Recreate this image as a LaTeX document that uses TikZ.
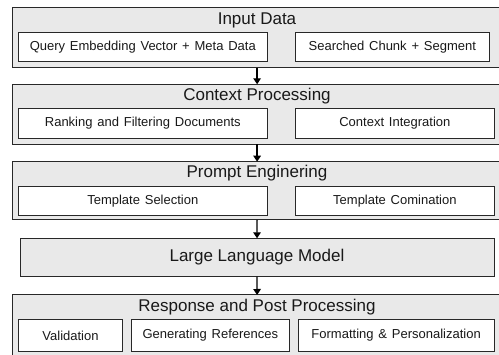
\documentclass[tikz,border=0pt]{standalone}
\usepackage{fontspec}
\setmainfont{Liberation Sans}
\usetikzlibrary{arrows.meta}
\definecolor{panelfill}{RGB}{233,233,233}
\definecolor{edge}{RGB}{40,40,40}
% cell text: slightly wider word gaps
\newcommand{\cellfont}{\fontsize{13}{15}\selectfont\spaceskip=0.37em\relax}
\tikzset{
  panel/.style={draw=edge, line width=1pt, fill=panelfill, anchor=north west,
    inner sep=0pt, outer sep=0pt},
  cell/.style={draw=edge, line width=1pt, fill=white, anchor=north west,
    inner sep=0pt, outer sep=0pt, font=\cellfont, text=black!90},
  heading/.style={font=\fontsize{17}{19}\selectfont, text=black!90, inner sep=0pt},
  llm/.style={draw=edge, line width=1pt, fill=panelfill, anchor=north west,
    inner sep=0pt, outer sep=0pt, font=\fontsize{17}{19}\selectfont, text=black!90},
  flow/.style={draw=black, line width=1.3pt, -{Triangle[length=6pt,width=7.5pt]}},
}
\begin{document}
\begin{tikzpicture}[x=1pt,y=-1pt]
\useasboundingbox (0,0) rectangle (499,355);
\clip (0,0) rectangle (499,355);

% Input stage
\node[panel, minimum width=488.8pt, minimum height=60.4pt] (input) at (12.7,7.3) {};
\node[heading] (inputT) at (257,20) {Input Data};
\node[cell, minimum width=249pt, minimum height=29.4pt] (query) at (18.3,32.3)
  {Query Embedding Vector + Meta Data};
\node[cell, minimum width=193.3pt, minimum height=29.4pt] (chunk) at (295.7,32.3)
  {Searched Chunk + Segment};

% Context stage
\node[panel, minimum width=488.8pt, minimum height=60pt] (context) at (12.7,84.3) {};
\node[heading] (contextT) at (257,96.5) {Context Processing};
\node[cell, minimum width=249pt, minimum height=30pt] (rank) at (18.3,108.3)
  {Ranking and Filtering Documents};
\node[cell, minimum width=198.3pt, minimum height=30pt] (integ) at (295.7,108.3)
  {Context Integration};

% Prompt stage
\node[panel, minimum width=488.8pt, minimum height=58.3pt] (prompt) at (12.7,161.7) {};
\node[heading] (promptT) at (257,173.5) {Prompt Enginering};
\node[cell, minimum width=249pt, minimum height=29pt] (tsel) at (18.3,186.7)
  {Template Selection};
\node[cell, minimum width=198.3pt, minimum height=29pt] (tcomb) at (295.7,186.7)
  {Template Comination};

% Model
\node[llm, minimum width=474pt, minimum height=38.4pt] (model) at (20,238.3)
  {Large Language Model};

% Response stage
\node[panel, minimum width=488.8pt, minimum height=70pt] (response) at (12.7,295) {};
\node[heading] (responseT) at (257,307.5) {Response and Post Processing};
\node[cell, minimum width=104.4pt, minimum height=32.2pt] (valid) at (18.3,319.3)
  {Validation};
\node[cell, minimum width=158.7pt, minimum height=32.2pt] (refs) at (131,319.3)
  {Generating References};
\node[cell, minimum width=195.7pt, minimum height=32.2pt] (fmt) at (298.3,319.3)
  {Formatting \& Personalization};

% Flow between stages
\draw[flow] (input.south) -- (context.north);
\draw[flow] (context.south) -- (prompt.north);
\draw[flow] (prompt.south) -- (model.north);
\draw[flow] (model.south) -- (response.north);
\end{tikzpicture}
\end{document}
